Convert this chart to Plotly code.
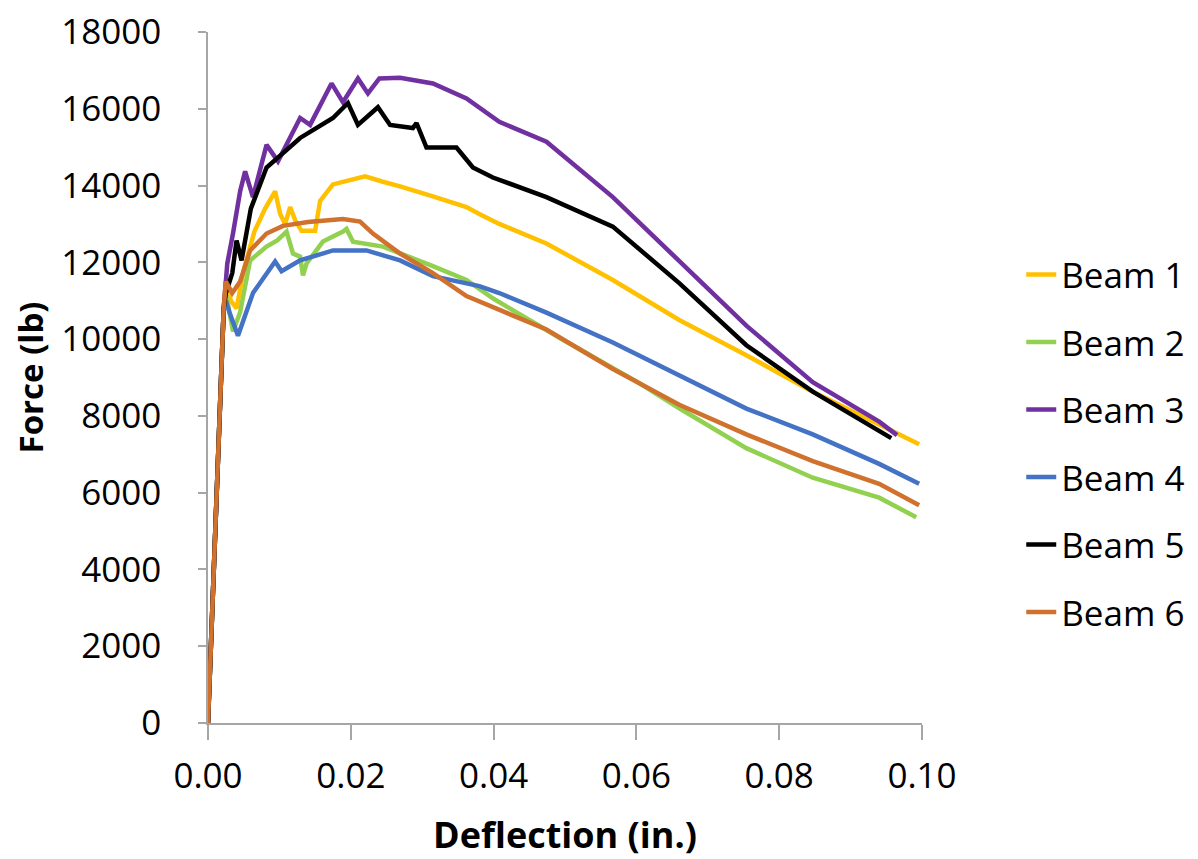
import plotly.graph_objects as go

# Deflection (in.) and Force (lb)
beam1_x = [0, 0.0003, 0.0012, 0.0022, 0.0025, 0.0032, 0.0040, 0.0050, 0.0065, 0.0080, 0.0094, 0.0101, 0.0108, 0.0115, 0.0122, 0.0131, 0.0150, 0.0157, 0.0175, 0.0200, 0.0220, 0.0245, 0.0269, 0.0315, 0.0362, 0.0380, 0.0408, 0.0474, 0.0567, 0.0660, 0.0754, 0.0847, 0.0940, 0.0996]
beam1_y = [0, 1500, 6000, 10800, 11500, 11000, 10800, 11800, 12800, 13400, 13850, 13260, 13000, 13440, 13100, 12820, 12820, 13600, 14030, 14150, 14240, 14100, 13980, 13720, 13440, 13260, 13000, 12490, 11540, 10500, 9580, 8630, 7780, 7260]

beam2_x = [0, 0.0003, 0.0012, 0.0022, 0.0025, 0.0035, 0.0045, 0.0059, 0.0082, 0.0097, 0.0110, 0.0119, 0.0129, 0.0133, 0.0138, 0.0161, 0.0189, 0.0194, 0.0203, 0.0222, 0.0245, 0.0315, 0.0362, 0.0400, 0.0500, 0.0600, 0.0660, 0.0754, 0.0847, 0.0940, 0.0992]
beam2_y = [0, 1500, 6000, 10800, 11200, 10200, 10700, 12050, 12410, 12570, 12800, 12230, 12150, 11660, 11970, 12540, 12800, 12870, 12540, 12490, 12410, 11900, 11540, 11050, 9950, 8900, 8200, 7160, 6390, 5870, 5360]

beam3_x = [0, 0.0003, 0.0012, 0.0022, 0.0025, 0.0027, 0.0035, 0.0045, 0.0052, 0.0063, 0.0082, 0.0098, 0.0129, 0.0143, 0.0173, 0.0189, 0.0210, 0.0224, 0.0240, 0.0269, 0.0315, 0.0362, 0.0408, 0.0474, 0.0567, 0.0660, 0.0754, 0.0847, 0.0940, 0.0965]
beam3_y = [0, 1500, 6000, 10800, 11500, 11970, 12750, 13850, 14370, 13700, 15060, 14630, 15760, 15580, 16660, 16170, 16790, 16400, 16790, 16810, 16660, 16270, 15660, 15140, 13700, 12050, 10350, 8880, 7850, 7500]

beam4_x = [0, 0.0003, 0.0012, 0.0022, 0.0025, 0.0030, 0.0042, 0.0050, 0.0063, 0.0094, 0.0103, 0.0129, 0.0175, 0.0222, 0.0269, 0.0315, 0.0380, 0.0408, 0.0474, 0.0567, 0.0660, 0.0754, 0.0847, 0.0940, 0.0996]
beam4_y = [0, 1500, 6000, 10800, 11000, 10700, 10090, 10500, 11200, 12020, 11770, 12050, 12310, 12310, 12050, 11640, 11380, 11200, 10690, 9910, 9060, 8190, 7520, 6750, 6230]

beam5_x = [0, 0.0003, 0.0012, 0.0022, 0.0025, 0.0034, 0.0040, 0.0047, 0.0060, 0.0082, 0.0129, 0.0175, 0.0196, 0.0210, 0.0238, 0.0255, 0.0287, 0.0292, 0.0306, 0.0348, 0.0371, 0.0399, 0.0474, 0.0567, 0.0660, 0.0754, 0.0847, 0.0940, 0.0957]
beam5_y = [0, 1500, 6000, 10800, 11200, 11720, 12570, 12050, 13400, 14470, 15240, 15760, 16150, 15580, 16040, 15580, 15500, 15630, 14990, 14990, 14470, 14210, 13700, 12930, 11460, 9840, 8630, 7600, 7420]

beam6_x = [0, 0.0003, 0.0012, 0.0022, 0.0025, 0.0034, 0.0045, 0.0059, 0.0082, 0.0105, 0.0140, 0.0189, 0.0213, 0.0231, 0.0269, 0.0315, 0.0362, 0.0408, 0.0474, 0.0567, 0.0660, 0.0754, 0.0847, 0.0940, 0.0996]
beam6_y = [0, 1500, 6000, 10800, 11500, 11200, 11500, 12310, 12750, 12950, 13050, 13130, 13060, 12750, 12230, 11720, 11120, 10760, 10250, 9220, 8290, 7520, 6820, 6230, 5670]

names = ["Beam 1", "Beam 2", "Beam 3", "Beam 4", "Beam 5", "Beam 6"]
colors = ["#FFC000", "#92D050", "#7030A0", "#4472C4", "#000000", "#D0712D"]
xs = [beam1_x, beam2_x, beam3_x, beam4_x, beam5_x, beam6_x]
ys = [beam1_y, beam2_y, beam3_y, beam4_y, beam5_y, beam6_y]

x_ticks = [0.00, 0.02, 0.04, 0.06, 0.08, 0.10]
y_ticks = [0, 2000, 4000, 6000, 8000, 10000, 12000, 14000, 16000, 18000]

FONT = "Open Sans"

fig = go.Figure()
for n, c, x, y in zip(names, colors, xs, ys):
    fig.add_trace(go.Scatter(x=x, y=y, mode="lines", name=n, legendgroup=n,
                             line=dict(color=c, width=4.5)))

fig.update_layout(
    width=1190, height=851,
    paper_bgcolor="white", plot_bgcolor="white",
    margin=dict(l=200, r=276, t=24, b=136, autoexpand=False),
    font=dict(family=FONT, color="#000000"),
    legend=dict(x=1.139, xanchor="left", y=0.405, yanchor="middle",
                font=dict(family=FONT, size=35, color="#000000"),
                tracegroupgap=19, bgcolor="rgba(0,0,0,0)"),
    xaxis=dict(range=[0, 0.10], tickvals=x_ticks, ticktext=[f"{v:.2f}" for v in x_ticks],
               automargin=False, ticklabeloverflow="allow",
               showgrid=False, zeroline=False, showline=True, linecolor="#A6A6A6", linewidth=1.5,
               ticks="outside", ticklen=15, tickcolor="#A6A6A6", tickwidth=1.5,
               tickfont=dict(family=FONT, size=35, color="#000000"),
               ticklabelstandoff=6,
               title=dict(text="<b>Deflection (in.)</b>", font=dict(family=FONT, size=36, color="#000000"), standoff=28)),
    yaxis=dict(range=[0, 18000], tickvals=y_ticks, ticktext=[str(v) for v in y_ticks],
               automargin=False, ticklabeloverflow="allow",
               showgrid=False, zeroline=False, showline=True, linecolor="#A6A6A6", linewidth=1.5,
               ticks="outside", ticklen=8, tickcolor="#A6A6A6", tickwidth=1.5,
               tickfont=dict(family=FONT, size=35, color="#000000"),
               ticklabelstandoff=30,
               title=dict(text="<b>Force (lb)</b>", font=dict(family=FONT, size=33, color="#000000"), standoff=20)),
)

fig.write_html("out.html")
